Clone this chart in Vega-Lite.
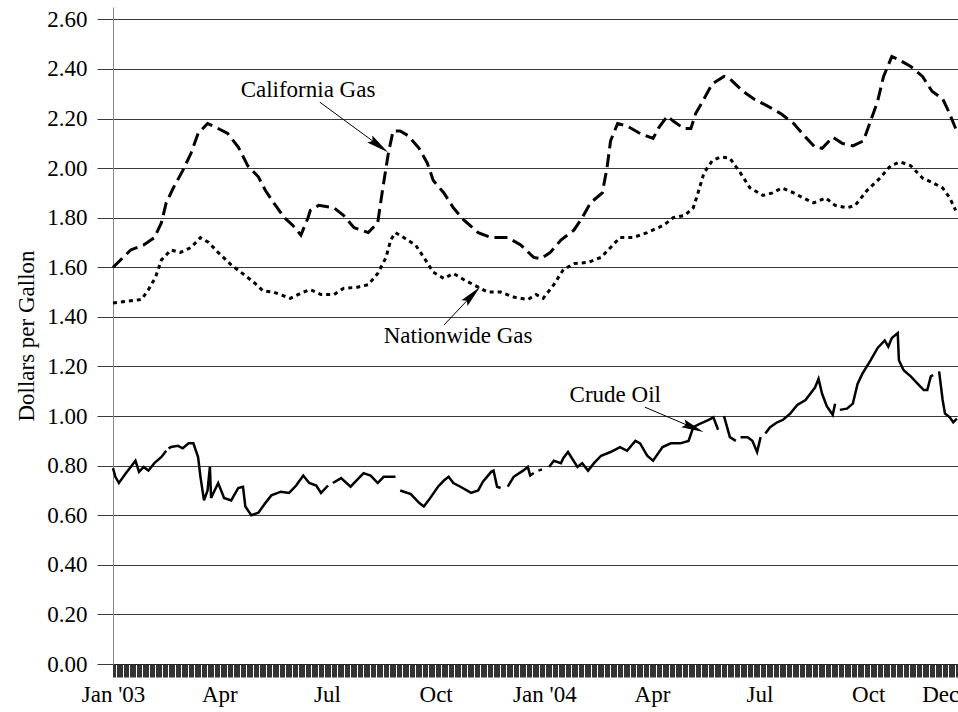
{
  "$schema": "https://vega.github.io/schema/vega-lite/v6.json",
  "width": 845,
  "height": 657,
  "autosize": {"type": "none"},
  "padding": {"left": 113, "top": 7, "right": 0, "bottom": 48},
  "background": "white",
  "config": {"view": {"stroke": null}, "font": "Liberation Serif"},
  "datasets": {
    "cal": [
      {"date": "2003-01-01", "price": 1.6}, {"date": "2003-01-16", "price": 1.67}, {"date": "2003-01-27", "price": 1.69},
      {"date": "2003-02-05", "price": 1.72}, {"date": "2003-02-11", "price": 1.78}, {"date": "2003-02-15", "price": 1.86},
      {"date": "2003-02-21", "price": 1.92}, {"date": "2003-03-01", "price": 1.99}, {"date": "2003-03-08", "price": 2.06},
      {"date": "2003-03-14", "price": 2.14}, {"date": "2003-03-22", "price": 2.18}, {"date": "2003-03-29", "price": 2.165},
      {"date": "2003-04-08", "price": 2.14}, {"date": "2003-04-17", "price": 2.085}, {"date": "2003-04-25", "price": 2.01},
      {"date": "2003-05-04", "price": 1.965}, {"date": "2003-05-10", "price": 1.91}, {"date": "2003-05-17", "price": 1.86},
      {"date": "2003-05-26", "price": 1.8}, {"date": "2003-06-02", "price": 1.77}, {"date": "2003-06-09", "price": 1.73},
      {"date": "2003-06-15", "price": 1.8}, {"date": "2003-06-17", "price": 1.83}, {"date": "2003-06-24", "price": 1.85},
      {"date": "2003-07-07", "price": 1.84}, {"date": "2003-07-15", "price": 1.81}, {"date": "2003-07-24", "price": 1.76},
      {"date": "2003-08-05", "price": 1.74}, {"date": "2003-08-13", "price": 1.78}, {"date": "2003-08-17", "price": 1.91},
      {"date": "2003-08-22", "price": 2.06}, {"date": "2003-08-26", "price": 2.15}, {"date": "2003-09-01", "price": 2.15},
      {"date": "2003-09-08", "price": 2.13}, {"date": "2003-09-17", "price": 2.08}, {"date": "2003-09-24", "price": 2.02},
      {"date": "2003-09-29", "price": 1.95}, {"date": "2003-10-08", "price": 1.9}, {"date": "2003-10-16", "price": 1.84},
      {"date": "2003-10-25", "price": 1.79}, {"date": "2003-11-06", "price": 1.74}, {"date": "2003-11-17", "price": 1.72},
      {"date": "2003-12-01", "price": 1.72}, {"date": "2003-12-12", "price": 1.69}, {"date": "2003-12-23", "price": 1.64},
      {"date": "2003-12-29", "price": 1.635}, {"date": "2004-01-06", "price": 1.66}, {"date": "2004-01-15", "price": 1.71},
      {"date": "2004-01-26", "price": 1.75}, {"date": "2004-02-02", "price": 1.8}, {"date": "2004-02-09", "price": 1.86},
      {"date": "2004-02-19", "price": 1.9}, {"date": "2004-02-23", "price": 2.0}, {"date": "2004-02-26", "price": 2.11},
      {"date": "2004-03-03", "price": 2.18}, {"date": "2004-03-11", "price": 2.17}, {"date": "2004-03-22", "price": 2.14},
      {"date": "2004-04-02", "price": 2.12}, {"date": "2004-04-07", "price": 2.165}, {"date": "2004-04-14", "price": 2.21},
      {"date": "2004-04-19", "price": 2.19}, {"date": "2004-04-28", "price": 2.16}, {"date": "2004-05-04", "price": 2.16},
      {"date": "2004-05-08", "price": 2.22}, {"date": "2004-05-14", "price": 2.27}, {"date": "2004-05-22", "price": 2.34},
      {"date": "2004-06-01", "price": 2.37}, {"date": "2004-06-06", "price": 2.36}, {"date": "2004-06-17", "price": 2.31},
      {"date": "2004-06-26", "price": 2.28}, {"date": "2004-07-08", "price": 2.25}, {"date": "2004-07-19", "price": 2.22},
      {"date": "2004-07-30", "price": 2.18}, {"date": "2004-08-09", "price": 2.125}, {"date": "2004-08-17", "price": 2.085},
      {"date": "2004-08-23", "price": 2.08}, {"date": "2004-09-01", "price": 2.125}, {"date": "2004-09-09", "price": 2.1},
      {"date": "2004-09-18", "price": 2.09}, {"date": "2004-09-27", "price": 2.11}, {"date": "2004-10-03", "price": 2.19},
      {"date": "2004-10-09", "price": 2.27}, {"date": "2004-10-14", "price": 2.37}, {"date": "2004-10-21", "price": 2.45},
      {"date": "2004-10-26", "price": 2.44}, {"date": "2004-11-06", "price": 2.41}, {"date": "2004-11-16", "price": 2.37},
      {"date": "2004-11-24", "price": 2.31}, {"date": "2004-12-03", "price": 2.28}, {"date": "2004-12-08", "price": 2.23},
      {"date": "2004-12-14", "price": 2.16}
    ],
    "nat": [
      {"date": "2003-01-01", "price": 1.456}, {"date": "2003-01-25", "price": 1.47}, {"date": "2003-01-31", "price": 1.51},
      {"date": "2003-02-06", "price": 1.56}, {"date": "2003-02-11", "price": 1.63}, {"date": "2003-02-19", "price": 1.67},
      {"date": "2003-02-27", "price": 1.66}, {"date": "2003-03-08", "price": 1.68}, {"date": "2003-03-16", "price": 1.72},
      {"date": "2003-03-23", "price": 1.7}, {"date": "2003-03-31", "price": 1.66}, {"date": "2003-04-11", "price": 1.61},
      {"date": "2003-04-22", "price": 1.57}, {"date": "2003-04-30", "price": 1.54}, {"date": "2003-05-08", "price": 1.505},
      {"date": "2003-05-17", "price": 1.5}, {"date": "2003-05-31", "price": 1.475}, {"date": "2003-06-11", "price": 1.5},
      {"date": "2003-06-17", "price": 1.51}, {"date": "2003-06-26", "price": 1.49}, {"date": "2003-07-07", "price": 1.49},
      {"date": "2003-07-15", "price": 1.515}, {"date": "2003-07-27", "price": 1.52}, {"date": "2003-08-05", "price": 1.53},
      {"date": "2003-08-13", "price": 1.575}, {"date": "2003-08-20", "price": 1.64}, {"date": "2003-08-24", "price": 1.71},
      {"date": "2003-08-28", "price": 1.74}, {"date": "2003-09-04", "price": 1.72}, {"date": "2003-09-14", "price": 1.69},
      {"date": "2003-09-21", "price": 1.64}, {"date": "2003-09-29", "price": 1.58}, {"date": "2003-10-08", "price": 1.555},
      {"date": "2003-10-16", "price": 1.575}, {"date": "2003-10-25", "price": 1.55}, {"date": "2003-11-06", "price": 1.52},
      {"date": "2003-11-14", "price": 1.5}, {"date": "2003-11-25", "price": 1.5}, {"date": "2003-12-06", "price": 1.48},
      {"date": "2003-12-18", "price": 1.47}, {"date": "2003-12-25", "price": 1.49}, {"date": "2003-12-31", "price": 1.475},
      {"date": "2004-01-09", "price": 1.53}, {"date": "2004-01-17", "price": 1.59}, {"date": "2004-01-26", "price": 1.615},
      {"date": "2004-02-07", "price": 1.62}, {"date": "2004-02-18", "price": 1.64}, {"date": "2004-02-26", "price": 1.68},
      {"date": "2004-03-05", "price": 1.72}, {"date": "2004-03-16", "price": 1.72}, {"date": "2004-03-28", "price": 1.74},
      {"date": "2004-04-11", "price": 1.77}, {"date": "2004-04-19", "price": 1.8}, {"date": "2004-04-29", "price": 1.81},
      {"date": "2004-05-06", "price": 1.84}, {"date": "2004-05-10", "price": 1.9}, {"date": "2004-05-15", "price": 1.98},
      {"date": "2004-05-22", "price": 2.03}, {"date": "2004-05-29", "price": 2.045}, {"date": "2004-06-06", "price": 2.04},
      {"date": "2004-06-15", "price": 1.98}, {"date": "2004-06-23", "price": 1.92}, {"date": "2004-07-04", "price": 1.89},
      {"date": "2004-07-12", "price": 1.9}, {"date": "2004-07-20", "price": 1.92}, {"date": "2004-07-30", "price": 1.9},
      {"date": "2004-08-07", "price": 1.88}, {"date": "2004-08-16", "price": 1.86}, {"date": "2004-08-26", "price": 1.88},
      {"date": "2004-09-03", "price": 1.85}, {"date": "2004-09-13", "price": 1.84}, {"date": "2004-09-20", "price": 1.85},
      {"date": "2004-09-30", "price": 1.91}, {"date": "2004-10-11", "price": 1.96}, {"date": "2004-10-20", "price": 2.01},
      {"date": "2004-10-28", "price": 2.025}, {"date": "2004-11-06", "price": 2.01}, {"date": "2004-11-16", "price": 1.96},
      {"date": "2004-11-25", "price": 1.94}, {"date": "2004-12-03", "price": 1.92}, {"date": "2004-12-09", "price": 1.88},
      {"date": "2004-12-14", "price": 1.83}
    ],
    "crude": [
      {"seg": "A", "date": "2003-01-01", "price": 0.79}, {"seg": "A", "date": "2003-01-03", "price": 0.755},
      {"seg": "A", "date": "2003-01-06", "price": 0.73}, {"seg": "A", "date": "2003-01-12", "price": 0.77},
      {"seg": "A", "date": "2003-01-16", "price": 0.795}, {"seg": "A", "date": "2003-01-20", "price": 0.82},
      {"seg": "A", "date": "2003-01-23", "price": 0.775}, {"seg": "A", "date": "2003-01-27", "price": 0.795},
      {"seg": "A", "date": "2003-01-31", "price": 0.78}, {"seg": "A", "date": "2003-02-05", "price": 0.81},
      {"seg": "A", "date": "2003-02-11", "price": 0.835}, {"seg": "A", "date": "2003-02-15", "price": 0.86},
      {"seg": "B", "date": "2003-02-17", "price": 0.87}, {"seg": "B", "date": "2003-02-19", "price": 0.875},
      {"seg": "B", "date": "2003-02-25", "price": 0.88}, {"seg": "B", "date": "2003-03-01", "price": 0.87},
      {"seg": "B", "date": "2003-03-06", "price": 0.89}, {"seg": "B", "date": "2003-03-10", "price": 0.89},
      {"seg": "B", "date": "2003-03-14", "price": 0.835}, {"seg": "B", "date": "2003-03-16", "price": 0.755},
      {"seg": "B", "date": "2003-03-19", "price": 0.66}, {"seg": "B", "date": "2003-03-22", "price": 0.7},
      {"seg": "B", "date": "2003-03-24", "price": 0.795}, {"seg": "B", "date": "2003-03-25", "price": 0.67},
      {"seg": "B", "date": "2003-03-31", "price": 0.73}, {"seg": "B", "date": "2003-04-05", "price": 0.67},
      {"seg": "B", "date": "2003-04-11", "price": 0.66}, {"seg": "B", "date": "2003-04-17", "price": 0.71},
      {"seg": "B", "date": "2003-04-21", "price": 0.715}, {"seg": "B", "date": "2003-04-23", "price": 0.635},
      {"seg": "B", "date": "2003-04-28", "price": 0.6}, {"seg": "B", "date": "2003-05-04", "price": 0.61},
      {"seg": "B", "date": "2003-05-10", "price": 0.65}, {"seg": "B", "date": "2003-05-15", "price": 0.68},
      {"seg": "B", "date": "2003-05-23", "price": 0.695}, {"seg": "B", "date": "2003-05-30", "price": 0.69},
      {"seg": "B", "date": "2003-06-05", "price": 0.72}, {"seg": "B", "date": "2003-06-11", "price": 0.76},
      {"seg": "B", "date": "2003-06-16", "price": 0.73}, {"seg": "B", "date": "2003-06-22", "price": 0.72},
      {"seg": "B", "date": "2003-06-26", "price": 0.69}, {"seg": "B", "date": "2003-07-02", "price": 0.72},
      {"seg": "C", "date": "2003-07-06", "price": 0.73}, {"seg": "C", "date": "2003-07-13", "price": 0.75},
      {"seg": "C", "date": "2003-07-21", "price": 0.715}, {"seg": "C", "date": "2003-08-01", "price": 0.77},
      {"seg": "C", "date": "2003-08-07", "price": 0.76}, {"seg": "C", "date": "2003-08-13", "price": 0.73},
      {"seg": "C", "date": "2003-08-18", "price": 0.755}, {"seg": "C", "date": "2003-08-28", "price": 0.755},
      {"seg": "D", "date": "2003-09-01", "price": 0.7}, {"seg": "D", "date": "2003-09-10", "price": 0.685},
      {"seg": "D", "date": "2003-09-17", "price": 0.65}, {"seg": "D", "date": "2003-09-21", "price": 0.635},
      {"seg": "D", "date": "2003-09-25", "price": 0.66}, {"seg": "D", "date": "2003-10-03", "price": 0.715},
      {"seg": "D", "date": "2003-10-08", "price": 0.74}, {"seg": "D", "date": "2003-10-12", "price": 0.755},
      {"seg": "D", "date": "2003-10-16", "price": 0.73}, {"seg": "D", "date": "2003-10-22", "price": 0.715},
      {"seg": "D", "date": "2003-10-31", "price": 0.69}, {"seg": "D", "date": "2003-11-06", "price": 0.7},
      {"seg": "D", "date": "2003-11-10", "price": 0.735}, {"seg": "D", "date": "2003-11-17", "price": 0.775},
      {"seg": "D", "date": "2003-11-19", "price": 0.78}, {"seg": "D", "date": "2003-11-22", "price": 0.715},
      {"seg": "D", "date": "2003-11-25", "price": 0.71},
      {"seg": "E", "date": "2003-12-01", "price": 0.715}, {"seg": "E", "date": "2003-12-06", "price": 0.755},
      {"seg": "E", "date": "2003-12-14", "price": 0.78}, {"seg": "E", "date": "2003-12-18", "price": 0.795},
      {"seg": "E", "date": "2003-12-20", "price": 0.76}, {"seg": "E", "date": "2003-12-23", "price": 0.77},
      {"seg": "F", "date": "2003-12-27", "price": 0.78}, {"seg": "F", "date": "2003-12-30", "price": 0.785},
      {"seg": "G", "date": "2004-01-05", "price": 0.795}, {"seg": "G", "date": "2004-01-09", "price": 0.82},
      {"seg": "G", "date": "2004-01-15", "price": 0.81}, {"seg": "G", "date": "2004-01-17", "price": 0.83},
      {"seg": "G", "date": "2004-01-21", "price": 0.855}, {"seg": "G", "date": "2004-01-29", "price": 0.795},
      {"seg": "G", "date": "2004-02-02", "price": 0.81}, {"seg": "G", "date": "2004-02-07", "price": 0.78},
      {"seg": "G", "date": "2004-02-12", "price": 0.81}, {"seg": "G", "date": "2004-02-18", "price": 0.84},
      {"seg": "G", "date": "2004-02-26", "price": 0.855}, {"seg": "G", "date": "2004-03-05", "price": 0.875},
      {"seg": "G", "date": "2004-03-11", "price": 0.86}, {"seg": "G", "date": "2004-03-18", "price": 0.9},
      {"seg": "G", "date": "2004-03-22", "price": 0.89}, {"seg": "G", "date": "2004-03-28", "price": 0.84},
      {"seg": "G", "date": "2004-04-02", "price": 0.82}, {"seg": "G", "date": "2004-04-10", "price": 0.875},
      {"seg": "G", "date": "2004-04-17", "price": 0.89}, {"seg": "G", "date": "2004-04-25", "price": 0.89},
      {"seg": "G", "date": "2004-05-02", "price": 0.9}, {"seg": "G", "date": "2004-05-06", "price": 0.955},
      {"seg": "G", "date": "2004-05-12", "price": 0.97}, {"seg": "G", "date": "2004-05-19", "price": 0.985},
      {"seg": "G", "date": "2004-05-23", "price": 0.995}, {"seg": "G", "date": "2004-05-27", "price": 0.945},
      {"seg": "H", "date": "2004-06-01", "price": 1.0}, {"seg": "H", "date": "2004-06-06", "price": 0.915},
      {"seg": "H", "date": "2004-06-11", "price": 0.9},
      {"seg": "I", "date": "2004-06-15", "price": 0.915}, {"seg": "I", "date": "2004-06-21", "price": 0.915},
      {"seg": "I", "date": "2004-06-25", "price": 0.9}, {"seg": "I", "date": "2004-06-29", "price": 0.855},
      {"seg": "I", "date": "2004-07-02", "price": 0.915},
      {"seg": "J", "date": "2004-07-06", "price": 0.93}, {"seg": "J", "date": "2004-07-10", "price": 0.955},
      {"seg": "J", "date": "2004-07-16", "price": 0.975}, {"seg": "J", "date": "2004-07-21", "price": 0.985},
      {"seg": "J", "date": "2004-07-27", "price": 1.01}, {"seg": "J", "date": "2004-08-02", "price": 1.045},
      {"seg": "J", "date": "2004-08-09", "price": 1.065}, {"seg": "J", "date": "2004-08-13", "price": 1.09},
      {"seg": "J", "date": "2004-08-17", "price": 1.115}, {"seg": "J", "date": "2004-08-20", "price": 1.15},
      {"seg": "J", "date": "2004-08-23", "price": 1.09}, {"seg": "J", "date": "2004-08-27", "price": 1.04},
      {"seg": "J", "date": "2004-09-01", "price": 1.005}, {"seg": "J", "date": "2004-09-03", "price": 1.05},
      {"seg": "K", "date": "2004-09-07", "price": 1.025}, {"seg": "K", "date": "2004-09-13", "price": 1.03},
      {"seg": "K", "date": "2004-09-18", "price": 1.05}, {"seg": "K", "date": "2004-09-22", "price": 1.13},
      {"seg": "K", "date": "2004-09-26", "price": 1.17}, {"seg": "K", "date": "2004-10-03", "price": 1.225},
      {"seg": "K", "date": "2004-10-09", "price": 1.275}, {"seg": "K", "date": "2004-10-15", "price": 1.305},
      {"seg": "K", "date": "2004-10-18", "price": 1.28}, {"seg": "K", "date": "2004-10-21", "price": 1.315},
      {"seg": "K", "date": "2004-10-26", "price": 1.335}, {"seg": "K", "date": "2004-10-27", "price": 1.225},
      {"seg": "K", "date": "2004-10-31", "price": 1.185}, {"seg": "K", "date": "2004-11-06", "price": 1.16},
      {"seg": "K", "date": "2004-11-12", "price": 1.13}, {"seg": "K", "date": "2004-11-17", "price": 1.105},
      {"seg": "K", "date": "2004-11-20", "price": 1.105}, {"seg": "K", "date": "2004-11-23", "price": 1.16},
      {"seg": "K", "date": "2004-11-25", "price": 1.165},
      {"seg": "L", "date": "2004-11-30", "price": 1.18}, {"seg": "L", "date": "2004-12-03", "price": 1.065},
      {"seg": "L", "date": "2004-12-05", "price": 1.01}, {"seg": "L", "date": "2004-12-09", "price": 0.995},
      {"seg": "L", "date": "2004-12-12", "price": 0.975}, {"seg": "L", "date": "2004-12-15", "price": 0.99}
    ],
    "notes": [
      {"label": "California Gas", "date": "2003-06-15", "price": 2.315},
      {"label": "Nationwide Gas", "date": "2003-10-20", "price": 1.323},
      {"label": "Crude Oil", "date": "2004-03-01", "price": 1.085}
    ],
    "arrows": [
      {"label": "California Gas", "date": "2003-06-25", "price": 2.266, "date2": "2003-08-14", "price2": 2.091},
      {"label": "Nationwide Gas", "date": "2003-10-08", "price": 1.367, "date2": "2003-11-01", "price2": 1.488},
      {"label": "Crude Oil", "date": "2004-03-26", "price": 1.036, "date2": "2004-05-06", "price2": 0.953}
    ]
  },
  "encoding": {
    "x": {
      "field": "date",
      "type": "temporal",
      "scale": {"type": "utc", "domain": [{"year": 2003, "month": 1, "date": 1, "utc": true}, {"year": 2004, "month": 12, "date": 16, "utc": true}]},
      "axis": {
        "title": null,
        "grid": false,
        "tickCount": {"interval": "day", "step": 1},
        "tickSize": 13,
        "tickWidth": 1,
        "tickColor": "#333333",
        "domainColor": "#222222",
        "labelExpr": "utcdate(datum.value) == 1 && (utcmonth(datum.value) % 3 == 0 || (utcyear(datum.value) == 2004 && utcmonth(datum.value) == 11)) ? (utcmonth(datum.value) == 0 ? utcFormat(datum.value, \"%b '%y\") : utcFormat(datum.value, '%b')) : ''",
        "labelOverlap": false,
        "labelBound": false,
        "labelFlush": false,
        "labelFont": "Liberation Serif",
        "labelFontSize": 23,
        "labelColor": "#000000",
        "labelPadding": 6
      }
    },
    "y": {
      "field": "price",
      "type": "quantitative",
      "scale": {"domain": [0, 2.65], "nice": false},
      "axis": {
        "values": [0, 0.2, 0.4, 0.6, 0.8, 1.0, 1.2, 1.4, 1.6, 1.8, 2.0, 2.2, 2.4, 2.6],
        "format": ".2f",
        "grid": true,
        "gridColor": "#3a3a3a",
        "gridWidth": 1,
        "tickSize": 16,
        "tickColor": "#3a3a3a",
        "domainColor": "#8a8a8a",
        "labelFont": "Liberation Serif",
        "labelFontSize": 23,
        "labelColor": "#000000",
        "labelPadding": 10,
        "title": "Dollars per Gallon",
        "titleFont": "Liberation Serif",
        "titleFontSize": 23,
        "titleFontWeight": "normal",
        "titleColor": "#000000",
        "titlePadding": 8
      }
    }
  },
  "layer": [
    {"data": {"name": "cal"}, "mark": {"type": "line", "color": "#000000", "strokeWidth": 3, "strokeDash": [13, 6]}},
    {"data": {"name": "nat"}, "mark": {"type": "line", "color": "#000000", "strokeWidth": 3, "strokeDash": [4, 4]}},
    {"data": {"name": "crude"}, "mark": {"type": "line", "color": "#000000", "strokeWidth": 2.5}, "encoding": {"detail": {"field": "seg"}}},
    {
      "data": {"name": "arrows"},
      "mark": {"type": "rule", "color": "#000000", "strokeWidth": 1},
      "encoding": {"x2": {"field": "date2"}, "y2": {"field": "price2"}}
    },
    {
      "data": {"name": "arrows"},
      "transform": [{"filter": "datum.label == 'California Gas'"}],
      "mark": {"type": "point", "shape": "M0,-1L0.38,1L0,0.7L-0.38,1Z", "size": 500, "filled": true, "color": "#000000", "opacity": 1, "angle": 126},
      "encoding": {"x": {"field": "date2", "type": "temporal"}, "y": {"field": "price2", "type": "quantitative"}}
    },
    {
      "data": {"name": "arrows"},
      "transform": [{"filter": "datum.label == 'Nationwide Gas'"}],
      "mark": {"type": "point", "shape": "M0,-1L0.38,1L0,0.7L-0.38,1Z", "size": 500, "filled": true, "color": "#000000", "opacity": 1, "angle": 44},
      "encoding": {"x": {"field": "date2", "type": "temporal"}, "y": {"field": "price2", "type": "quantitative"}}
    },
    {
      "data": {"name": "arrows"},
      "transform": [{"filter": "datum.label == 'Crude Oil'"}],
      "mark": {"type": "point", "shape": "M0,-1L0.38,1L0,0.7L-0.38,1Z", "size": 500, "filled": true, "color": "#000000", "opacity": 1, "angle": 113},
      "encoding": {"x": {"field": "date2", "type": "temporal"}, "y": {"field": "price2", "type": "quantitative"}}
    },
    {
      "data": {"name": "notes"},
      "mark": {"type": "text", "font": "Liberation Serif", "fontSize": 23, "color": "#000000", "align": "center", "baseline": "middle"},
      "encoding": {"text": {"field": "label"}}
    }
  ]
}
